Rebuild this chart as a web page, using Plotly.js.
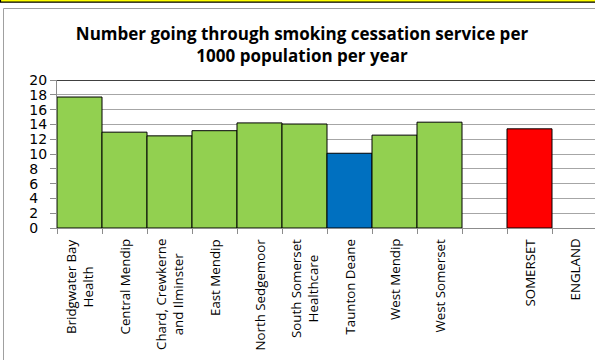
<!DOCTYPE html>
<html>
<head>
<meta charset="utf-8">
<script src="https://cdn.plot.ly/plotly-3.0.1.min.js"></script>
<style>html,body{margin:0;padding:0;background:#fff;}#chart{width:595px;height:360px;}</style>
</head>
<body>
<div id="chart"></div>
<script>
const categories = ["Bridgwater Bay<br>Health", "Central Mendip", "Chard, Crewkerne<br>and Ilminster", "East Mendip", "North Sedgemoor", "South Somerset<br>Healthcare", "Taunton Deane", "West Mendip", "West Somerset", " ", "SOMERSET", "ENGLAND"];
const values = [17.7, 12.95, 12.45, 13.15, 14.2, 14.05, 10.1, 12.55, 14.3, null, 13.4, null];
const barColors = ["#92D050", "#92D050", "#92D050", "#92D050", "#92D050", "#92D050", "#0070C0", "#92D050", "#92D050", "#92D050", "#FF0000", "#92D050"];
const yTickVals = [0, 2, 4, 6, 8, 10, 12, 14, 16, 18, 20];
const yTickText = ["0\u2007", "2\u2007", "4\u2007", "6\u2007", "8\u2007", "10", "12", "14", "16", "18", "20"];
const chartTitle = "Number going through smoking cessation service per<br>1000 population per year";

const W = 595, H = 360, L = 57, R = 0, T = 80, B = 132;
const pw = W - L - R, ph = H - T - B;
const px = v => (v - L) / pw;
const py = v => (H - B - v) / ph;

const trace = {
  type: "bar",
  x: categories,
  y: values,
  marker: {color: barColors, line: {color: "#000000", width: 1}},
  hoverinfo: "skip"
};

const labelAnnotations = categories.map(c => ({
  xref: "x", yref: "y", x: c, y: 0,
  yshift: -9,
  text: c, textangle: -90,
  xanchor: "center", yanchor: "top", align: "center",
  showarrow: false,
  font: {family: "Open Sans", size: 13.3, color: "#000000"}
}));

const layout = {
  width: W, height: H,
  margin: {l: L, r: R, t: T, b: B, pad: 0},
  paper_bgcolor: "#ffffff",
  plot_bgcolor: "#ffffff",
  showlegend: false,
  bargap: 0,
  title: {
    text: chartTitle,
    font: {family: "Open Sans", size: 17, color: "#000000", weight: "bold"},
    x: px(302), xref: "paper", xanchor: "center",
    y: (H - 40) / H, yanchor: "middle"
  },
  xaxis: {
    type: "category",
    range: [-0.5, 11.5 - 2 / 45],
    showticklabels: false,
    tickson: "boundaries",
    ticks: "outside", ticklen: 5, tickcolor: "#8c8c8c", tickwidth: 1,
    showline: true, linecolor: "#8c8c8c", linewidth: 1,
    showgrid: false, zeroline: false,
    fixedrange: true
  },
  yaxis: {
    range: [0, 20],
    tickvals: yTickVals, ticktext: yTickText,
    ticks: "outside", ticklen: 6, tickcolor: "#8c8c8c", tickwidth: 1,
    showline: true, linecolor: "#8c8c8c", linewidth: 1,
    showgrid: true, gridcolor: "#a6a6a6", gridwidth: 1,
    zeroline: false,
    tickfont: {family: "DejaVu Sans", size: 14, color: "#000000"},
    fixedrange: true
  },
  annotations: labelAnnotations,
  shapes: [
    {type: "rect", xref: "paper", yref: "paper", x0: px(0.5), x1: px(W + 5), y0: py(2.2), y1: py(-5), fillcolor: "#FFFF00", line: {color: "#000000", width: 1.2}, layer: "above"},
    {type: "line", xref: "paper", yref: "paper", x0: px(3.5), x1: px(W + 5), y0: py(8.5), y1: py(8.5), line: {color: "#a0a0a0", width: 1}},
    {type: "line", xref: "paper", yref: "paper", x0: px(3.5), x1: px(3.5), y0: py(8.5), y1: py(H + 5), line: {color: "#a0a0a0", width: 1}},
    {type: "line", xref: "paper", yref: "y", x0: 0, x1: 1, y0: 20, y1: 20, line: {color: "#000000", width: 1.3}}
  ]
};

Plotly.newPlot("chart", [trace], layout, {staticPlot: true, displayModeBar: false});
</script>
</body>
</html>
